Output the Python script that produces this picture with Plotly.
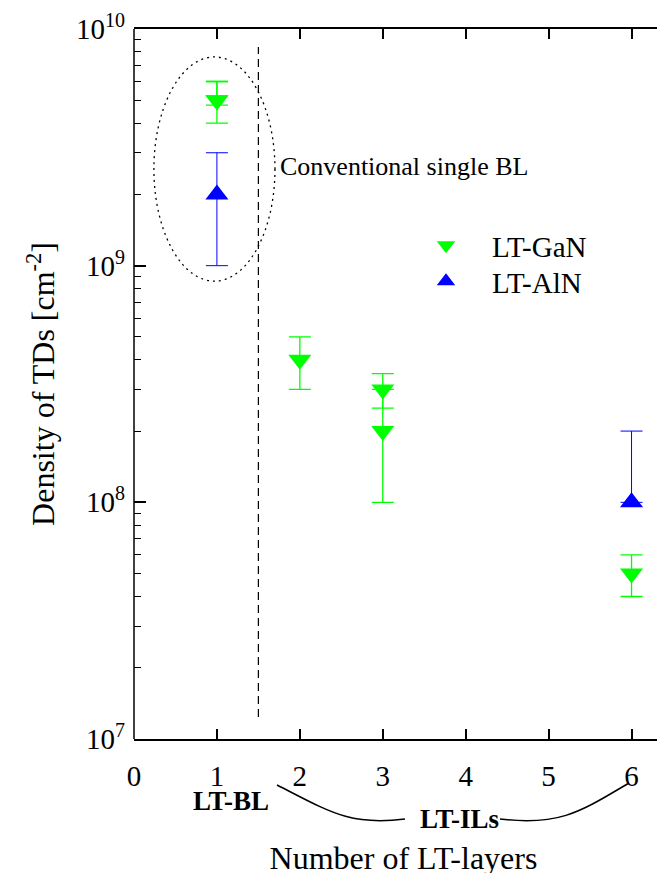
import plotly.graph_objects as go

# ---- data ----
gan_x = [1, 1, 2, 3, 3, 6]
gan_y = [5e9, 5e9, 4e8, 3e8, 2e8, 5e7]
gan_plus = [1e9, 1e9, 1e8, 0.5e8, 1e8, 1e7]
gan_minus = [1e9, 0.23e9, 1e8, 0.5e8, 1e8, 1e7]

aln_x = [1, 6]
aln_y = [2e9, 1e8]
aln_plus = [1e9, 1e8]
aln_minus = [1e9, 0]

x_ticks = [0, 1, 2, 3, 4, 5, 6]
y_ticks = [1e7, 1e8, 1e9, 1e10]
y_exponents = ["7", "8", "9", "10"]
y_ticktext = ["10<sup><span style='font-size:20px'>%s</span></sup>" % e for e in y_exponents]
y_minor = [m * 10 ** e for e in (7, 8, 9) for m in range(2, 10)]

FONT = "Liberation Serif"
W, H = 665, 873
ML, MR, MT, MB = 126, 0, 21, 142
OFF = 8  # page body margin


def px(x, y):
    """screen pixel -> paper coords for decorations"""
    return (x - OFF - ML) / (W - ML - MR), (H - MB - (y - OFF)) / (H - MT - MB)


fig = go.Figure()
fig.add_trace(go.Scatter(
    x=gan_x, y=gan_y, mode="markers", name="LT-GaN", legend="legend",
    marker=dict(symbol="triangle-down", size=20, color="#00ff00"),
    error_y=dict(type="data", symmetric=False, array=gan_plus, arrayminus=gan_minus,
                 color="#00ff00", thickness=1.3, width=11),
))
fig.add_trace(go.Scatter(
    x=aln_x, y=aln_y, mode="markers", name="LT-AlN", legend="legend2",
    marker=dict(symbol="triangle-up", size=20, color="#0000ff"),
    error_y=dict(type="data", symmetric=False, array=aln_plus, arrayminus=aln_minus,
                 color="#0000ff", thickness=1, width=11),
))

# left axis line (the right axis line lies beyond the visible edge)
fig.add_shape(type="line", xref="paper", yref="paper", x0=0, x1=0, y0=0, y1=1,
              line=dict(color="black", width=1.5))
# dashed divider and dotted ellipse (data coordinates)
fig.add_shape(type="line", xref="x", yref="y", x0=1.5, x1=1.5, y0=1.24e7, y1=8.4e9,
              line=dict(color="black", width=1.2, dash="8px,5px"))
fig.add_shape(type="circle", xref="x", yref="y", x0=0.24, x1=1.70, y0=8.6e8, y1=7.62e9,
              line=dict(color="black", width=1.3, dash="2px,4px"))


def curve(pts):
    p = [px(*q) for q in pts]
    return "M {},{} C {},{} {},{} {},{}".format(*[v for q in p for v in q])


fig.add_shape(type="path", xref="paper", yref="paper",
              path=curve([(277, 785), (330, 812), (350, 826), (405, 819)]),
              line=dict(color="black", width=1.5))
fig.add_shape(type="path", xref="paper", yref="paper",
              path=curve([(500, 819), (560, 826), (580, 812), (629, 783)]),
              line=dict(color="black", width=1.5))

fig.add_annotation(x=1.735, y=9.42, xref="x", yref="y", text="Conventional single BL",
                   showarrow=False, xanchor="left", yanchor="middle",
                   font=dict(family=FONT, size=26, color="black"))
bx, by = px(231, 801)
fig.add_annotation(x=bx, y=by, xref="paper", yref="paper", text="<b>LT-BL</b>",
                   showarrow=False, xanchor="center", yanchor="middle",
                   font=dict(family=FONT, size=27, color="black"))
ix, iy = px(459, 819)
fig.add_annotation(x=ix, y=iy, xref="paper", yref="paper", text="<b>LT-ILs</b>",
                   showarrow=False, xanchor="center", yanchor="middle",
                   font=dict(family=FONT, size=27, color="black"))

l1x, l1y = px(400, 220)
l2x, l2y = px(400, 256)
leg = dict(xanchor="left", yanchor="top", bgcolor="rgba(0,0,0,0)",
           font=dict(family=FONT, size=29, color="black"), itemwidth=82)
fig.update_layout(
    width=W, height=H,
    margin=dict(l=ML, r=MR, t=MT, b=MB, pad=0, autoexpand=False),
    paper_bgcolor="white", plot_bgcolor="white",
    font=dict(family=FONT, color="black"),
    showlegend=True,
    legend=dict(x=l1x, y=l1y, **leg),
    legend2=dict(x=l2x, y=l2y, **leg),
    xaxis=dict(range=[0, 6.5], tickvals=x_ticks, ticks="inside", ticklen=10, tickwidth=1.5,
               tickcolor="black",
               showline=True, linecolor="black", linewidth=1.5, mirror="ticks",
               showgrid=False, zeroline=False, ticklabelstandoff=10, automargin=False,
               tickfont=dict(family=FONT, size=29, color="black"),
               title=dict(text="Number of LT-layers", standoff=56,
                          font=dict(family=FONT, size=32, color="black"))),
    yaxis=dict(type="log", range=[7, 10], tickvals=y_ticks, ticktext=y_ticktext,
               ticks="inside", ticklen=12, tickwidth=1.5, tickcolor="black",
               showline=False, mirror="ticks",
               showgrid=False, zeroline=False, ticklabelstandoff=8, automargin=False,
               minor=dict(tickvals=y_minor, ticks="inside", ticklen=7, tickwidth=1.2,
                          tickcolor="black", showgrid=False),
               tickfont=dict(family=FONT, size=29, color="black"),
               title=dict(text="Density of TDs [cm<sup>-2</sup>]", standoff=11,
                          font=dict(family=FONT, size=32, color="black"))),
)

fig.write_html("out.html")
